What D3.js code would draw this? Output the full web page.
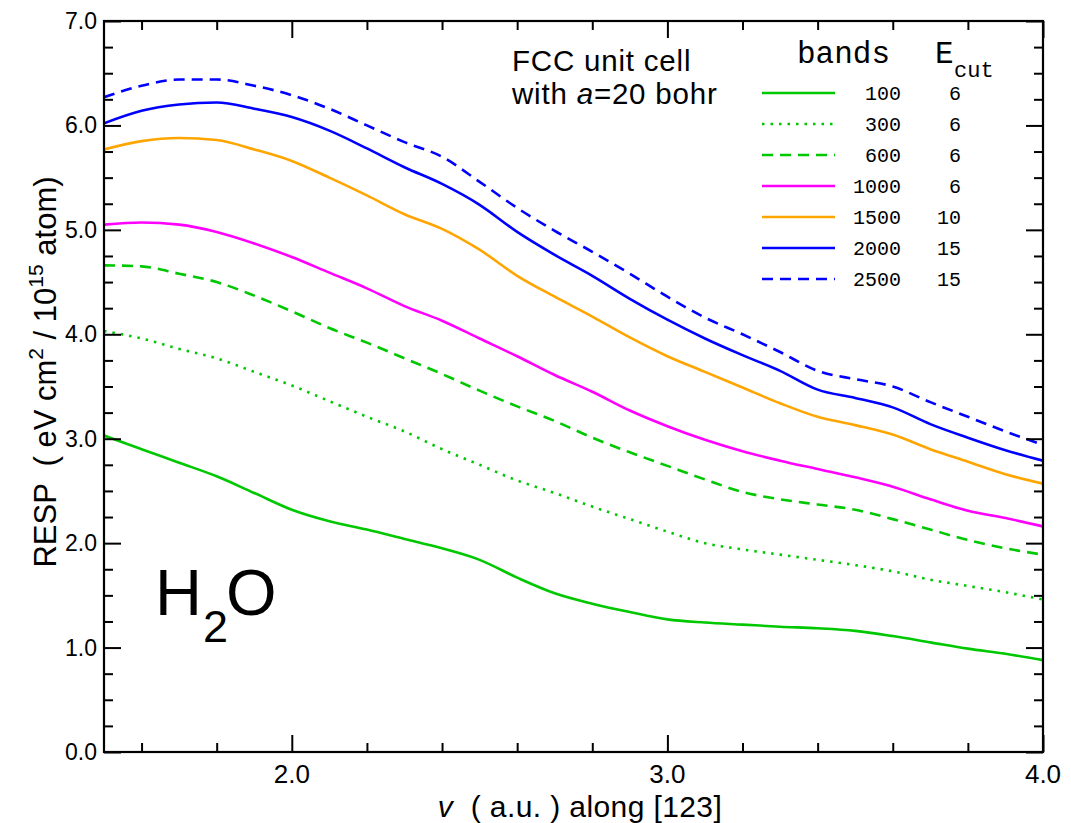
<!DOCTYPE html>
<html><head><meta charset="utf-8">
<script src="https://cdn.jsdelivr.net/npm/d3@7"></script>
<style>
html,body{margin:0;padding:0;background:#fff;}
svg text{font-family:"Liberation Sans",Arial,Helvetica,sans-serif;white-space:pre;}
svg text.mono{font-family:"Liberation Mono","Courier New",monospace;}
</style></head>
<body>
<svg id="c" width="1071" height="823"></svg>
<script>
// ---- data ----
const vGrid = [1.5,1.6,1.7,1.8,1.9,2.0,2.1,2.2,2.3,2.4,2.5,2.6,2.7,2.8,2.9,3.0,3.1,3.2,3.3,3.4,3.5,3.6,3.7,3.8,3.9,4.0];
const resp100  = [3.03,2.90,2.77,2.64,2.48,2.32,2.21,2.13,2.04,1.95,1.84,1.67,1.52,1.42,1.34,1.27,1.24,1.22,1.20,1.185,1.16,1.11,1.05,0.99,0.94,0.88];
const resp300  = [4.03,3.96,3.86,3.77,3.64,3.51,3.36,3.21,3.07,2.90,2.75,2.60,2.48,2.35,2.23,2.11,2.00,1.94,1.89,1.84,1.79,1.73,1.65,1.59,1.53,1.46];
const resp600  = [4.66,4.65,4.58,4.50,4.37,4.22,4.06,3.92,3.77,3.62,3.46,3.31,3.17,3.01,2.87,2.74,2.61,2.49,2.42,2.37,2.32,2.23,2.13,2.03,1.95,1.89];
const resp1000 = [5.05,5.07,5.05,4.98,4.87,4.74,4.59,4.44,4.27,4.13,3.96,3.79,3.61,3.45,3.27,3.12,2.99,2.88,2.79,2.71,2.63,2.54,2.42,2.31,2.24,2.16];
const resp1500 = [5.77,5.85,5.88,5.86,5.77,5.66,5.50,5.33,5.15,5.01,4.81,4.56,4.36,4.17,3.97,3.79,3.64,3.49,3.34,3.21,3.13,3.04,2.90,2.78,2.66,2.57];
const resp2000 = [6.02,6.14,6.20,6.22,6.16,6.08,5.95,5.78,5.60,5.44,5.24,4.98,4.76,4.56,4.34,4.14,3.96,3.80,3.65,3.47,3.39,3.30,3.14,3.01,2.89,2.79];
const resp2500 = [6.27,6.38,6.44,6.44,6.38,6.29,6.16,6.00,5.84,5.70,5.46,5.21,4.99,4.79,4.58,4.36,4.16,4.00,3.83,3.65,3.57,3.50,3.35,3.21,3.07,2.94];

const bandLabels = ["100","300","600","1000","1500","2000","2500"];
const ecutLabels = ["6","6","6","6","10","15","15"];
const seriesValues = [resp100,resp300,resp600,resp1000,resp1500,resp2000,resp2500];
const seriesColors = ["#00c800","#00c800","#00c800","#ff00ff","#ffa500","#0000ff","#0000ff"];
const seriesDash = [null,"2.5,6","11,7",null,null,null,"11,7"];

const xMajorTicks = [2.0,3.0,4.0];
const xMinorTicks = [1.6,1.8,2.2,2.4,2.6,2.8,3.2,3.4,3.6,3.8];
const yMajorTicks = [0,1,2,3,4,5,6,7];
const yMinorTicks = d3.range(0.25,7,0.25).filter(v=>Math.abs(v-Math.round(v))>1e-6);

// ---- layout ----
const L=104, R=1043, T=21, B=752;
const svg = d3.select("#c");
const x = d3.scaleLinear().domain([1.5,4.0]).range([L,R]);
const y = d3.scaleLinear().domain([0,7]).range([B,T]);

svg.append("defs").append("clipPath").attr("id","clip")
  .append("rect").attr("x",L).attr("y",T).attr("width",R-L).attr("height",B-T);

// curves
const line = d3.line().x((d,i)=>x(vGrid[i])).y(d=>y(d)).curve(d3.curveMonotoneX);
const gLines = svg.append("g").attr("clip-path","url(#clip)");
seriesValues.forEach((vals,k)=>{
  gLines.append("path").attr("d",line(vals)).attr("fill","none")
    .attr("stroke",seriesColors[k]).attr("stroke-width",2.6)
    .attr("stroke-dasharray",seriesDash[k]);
});

// axes with inward ticks on all sides
function axisPair(axisGen, transform){
  const g = svg.append("g").attr("transform",transform).call(axisGen);
  g.select(".domain").remove();
  g.selectAll("line").attr("stroke","#000").attr("stroke-width",2);
  return g;
}
const fmt = d3.format(".1f");
axisPair(d3.axisBottom(x).tickValues(xMajorTicks).tickSize(-17).tickFormat(""),`translate(0,${B})`);
axisPair(d3.axisBottom(x).tickValues(xMinorTicks).tickSize(-9).tickFormat(""),`translate(0,${B})`);
axisPair(d3.axisTop(x).tickValues(xMajorTicks).tickSize(-17).tickFormat(""),`translate(0,${T})`);
axisPair(d3.axisTop(x).tickValues(xMinorTicks).tickSize(-9).tickFormat(""),`translate(0,${T})`);
axisPair(d3.axisLeft(y).tickValues(yMajorTicks).tickSize(-17).tickFormat(""),`translate(${L},0)`);
axisPair(d3.axisLeft(y).tickValues(yMinorTicks).tickSize(-9).tickFormat(""),`translate(${L},0)`);
axisPair(d3.axisRight(y).tickValues(yMajorTicks).tickSize(-17).tickFormat(""),`translate(${R},0)`);
axisPair(d3.axisRight(y).tickValues(yMinorTicks).tickSize(-9).tickFormat(""),`translate(${R},0)`);

// frame
svg.append("rect").attr("x",L).attr("y",T).attr("width",R-L).attr("height",B-T)
  .attr("fill","none").attr("stroke","#000").attr("stroke-width",2.2);

// tick labels
svg.append("g").selectAll("text").data(xMajorTicks).join("text")
  .attr("x",d=>x(d)).attr("y",783).attr("text-anchor","middle")
  .attr("font-size",26).text(d=>fmt(d));
svg.append("g").selectAll("text").data(yMajorTicks).join("text")
  .attr("x",97).attr("y",d=>y(d)+8).attr("text-anchor","end")
  .attr("font-size",23).text(d=>fmt(d));

// axis titles
const xt = svg.append("text").attr("x",580).attr("y",817).attr("text-anchor","middle").attr("font-size",30).attr("letter-spacing",0.4);
xt.append("tspan").attr("font-style","italic").text("v");
xt.append("tspan").text("  ( a.u. ) along [123]");

const yt = svg.append("text").attr("transform","translate(56,372) rotate(-90)")
  .attr("text-anchor","middle").attr("font-size",31);
yt.append("tspan").text("RESP  ( eV cm");
yt.append("tspan").attr("font-size",21).attr("dy",-13).text("2");
yt.append("tspan").attr("dy",13).text(" / 10");
yt.append("tspan").attr("font-size",21).attr("dy",-13).text("15");
yt.append("tspan").attr("dy",13).text(" atom)");

// annotation
svg.append("text").attr("x",512).attr("y",71).attr("font-size",29.5).attr("letter-spacing",0.8).text("FCC unit cell");
const a2 = svg.append("text").attr("x",512).attr("y",104).attr("font-size",29.5).attr("letter-spacing",0.8);
a2.append("tspan").text("with ");
a2.append("tspan").attr("font-style","italic").text("a");
a2.append("tspan").text("=20 bohr");

// H2O
const h = svg.append("text").attr("x",155).attr("y",615).attr("font-size",65);
h.append("tspan").text("H");
h.append("tspan").attr("font-size",45).attr("dy",27).attr("dx",1).text("2");
h.append("tspan").attr("dy",-27).attr("dx",-2).text("O");

// legend
const lg = svg.append("g");
lg.append("text").attr("class","mono").attr("x",797).attr("y",63).attr("font-size",31).text("bands");
lg.append("text").attr("class","mono").attr("x",935).attr("y",63).attr("font-size",31).text("E");
lg.append("text").attr("class","mono").attr("x",954).attr("y",77).attr("font-size",22).text("cut");
const rowY = d3.scalePoint().domain(bandLabels).range([93,279]);
bandLabels.forEach((b,k)=>{
  const yy = rowY(b);
  lg.append("line").attr("x1",762).attr("x2",835).attr("y1",yy).attr("y2",yy)
    .attr("stroke",seriesColors[k]).attr("stroke-width",2.6).attr("stroke-dasharray",seriesDash[k]);
  lg.append("text").attr("class","mono").attr("x",901).attr("y",yy+7).attr("text-anchor","end").attr("font-size",20).text(b);
  lg.append("text").attr("class","mono").attr("x",961).attr("y",yy+7).attr("text-anchor","end").attr("font-size",20).text(ecutLabels[k]);
});
</script>
</body></html>
